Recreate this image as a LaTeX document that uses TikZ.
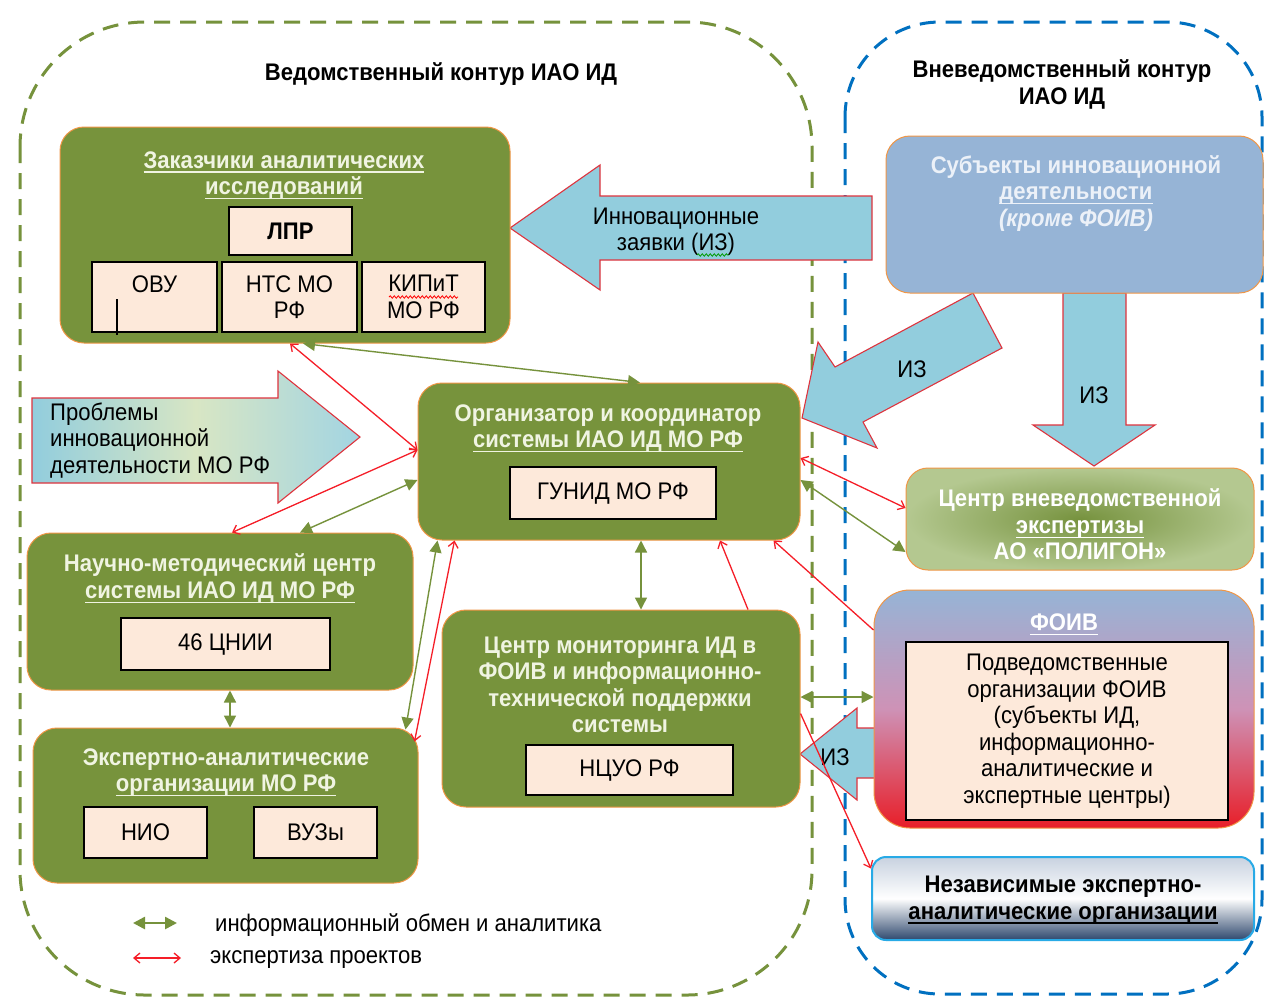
\documentclass[tikz,border=0pt]{standalone}
\usepackage{fontspec}
\setmainfont{Liberation Sans}[FakeStretch=0.92]
\usetikzlibrary{arrows.meta,decorations.pathmorphing}
\newcommand\dgmfont{\fontsize{24}{26.5}\selectfont}
\newcommand\uln[1]{\setbox0\hbox{#1}\rlap{\rule[-4.5pt]{\wd0}{1.3pt}}\box0}

\definecolor{boxgreen}{RGB}{119,147,60}
\definecolor{boxline}{RGB}{240,150,70}
\definecolor{boxtext}{RGB}{240,244,226}
\definecolor{peach}{RGB}{253,233,218}
\definecolor{arrowblue}{RGB}{146,205,221}
\definecolor{arrowred}{RGB}{222,52,62}
\definecolor{paleg}{RGB}{216,230,196}
\definecolor{infogreen}{RGB}{118,146,60}
\definecolor{expred}{RGB}{245,30,40}
\definecolor{dashblue}{RGB}{0,112,192}
\definecolor{subjblue}{RGB}{150,180,214}
\definecolor{subjtext}{RGB}{236,241,248}
\definecolor{vnevin}{RGB}{118,146,62}
\definecolor{vnevout}{RGB}{180,200,144}
\definecolor{foivmid}{RGB}{206,146,182}
\definecolor{foivred}{RGB}{232,30,40}
\definecolor{neztop}{RGB}{200,210,224}
\definecolor{nezbot}{RGB}{46,72,110}
\definecolor{nezline}{RGB}{40,170,230}

\begin{document}
\begin{tikzpicture}[x=1pt,y=-1pt,
    every node/.style={font=\dgmfont},
    greenbox/.style={draw=boxline,fill=boxgreen,line width=1pt,rounded corners=24pt,inner sep=0pt},
    innerbox/.style={draw=black,fill=peach,line width=1.5pt,inner sep=0pt,align=center},
    ttl/.style={text=boxtext,align=center,inner sep=0pt,font=\dgmfont\bfseries,yshift=-2.5pt},
    plain/.style={text=black,align=center,inner sep=0pt,yshift=-2.5pt},
    bigarrow/.style={draw=arrowred,fill=arrowblue,line width=1.1pt},
    spell/.style={line width=0.8pt,decorate,decoration={snake,amplitude=1.2pt,segment length=4pt}},
    info/.style={draw=infogreen,line width=1.4pt,{Triangle[length=12pt,width=12pt]}-{Triangle[length=12pt,width=12pt]}},
    expert/.style={draw=expred,line width=1.3pt,{Straight Barb[length=6pt,width=10pt]}-{Straight Barb[length=6pt,width=10pt]}},
    expertto/.style={draw=expred,line width=1.3pt,-{Straight Barb[length=6pt,width=10pt]}}
  ]
  \useasboundingbox (0,0) rectangle (1265,997);
  \fill[white] (0,0) rectangle (1265,997);

  % contours
  \draw[draw=infogreen,line width=3pt,dash pattern=on 16pt off 10pt,rounded corners=125pt] (20,22) rectangle (812,995);
  \draw[draw=dashblue,line width=3pt,dash pattern=on 16pt off 10pt,rounded corners=95pt] (845,22) rectangle (1262,994);
  \node[plain,font=\dgmfont\bfseries] (ved-t) at (441,72) {Ведомственный контур ИАО ИД};
  \node[plain,font=\dgmfont\bfseries] (vne-t) at (1062,82) {Вневедомственный контур\\ИАО ИД};

  % big arrows
  \draw[bigarrow] (510,228) -- (600,165) -- (600,196) -- (872,196) -- (872,260) -- (600,260) -- (600,290) -- cycle;
  \node[plain] (iz-t) at (676,229) {Инновационные\\заявки (ИЗ)};
  \draw[spell,draw=green!60!black] (697,255) -- (729,255);
  \draw[bigarrow] (973,293) -- (1002,348) -- (863,422) -- (877,448) -- (802,418) -- (818,342) -- (835,367) -- cycle;
  \node[plain] (izd-t) at (912,367) {ИЗ};
  \draw[bigarrow] (1063,293) -- (1126,293) -- (1126,425) -- (1155,425) -- (1094,466) -- (1033,425) -- (1063,425) -- cycle;
  \node[plain] (izv-t) at (1094,393) {ИЗ};
  \draw[bigarrow] (880,728) -- (857,728) -- (857,708) -- (800,754) -- (857,800) -- (857,778) -- (880,778) -- cycle;
  \node[plain] (izf-t) at (835,755) {ИЗ};
  \draw[draw=arrowred,line width=1.1pt,left color=arrowblue,right color=arrowblue!85,middle color=paleg] (32,398) -- (278,398) -- (278,371) -- (360,437) -- (278,503) -- (278,483) -- (32,483) -- cycle;
  \node[plain,align=left,anchor=west] (prob-t) at (50,438) {Проблемы\\инновационной\\деятельности МО РФ};

  % customers
  \node[greenbox,minimum width=450pt,minimum height=216pt] (zak) at (285,235) {};
  \node[ttl] (zak-t) at (284,173) {\uln{Заказчики аналитических}\\\uln{исследований}};
  \node[innerbox,minimum width=123pt,minimum height=48pt,font=\dgmfont\bfseries] (lpr) at (290.5,231) {ЛПР};
  \node[innerbox,minimum width=125pt,minimum height=70pt] (ovu) at (154.5,297) {ОВУ\\\phantom{Р}};
  \node[innerbox,minimum width=135pt,minimum height=70pt] (nts) at (289.5,297) {НТС МО\\РФ};
  \node[innerbox,minimum width=123pt,minimum height=70pt] (kip) at (423.5,297) {КИПиТ\\МО РФ};
  \draw[spell,draw=red] (389,297) -- (458,297);
  \draw[line width=2pt] (117,299) -- (117,335);

  % outside subjects
  \node[draw=boxline,fill=subjblue,line width=1pt,rounded corners=24pt,minimum width=377pt,minimum height=157pt] (subj) at (1074.5,214.5) {};
  \node[ttl,text=subjtext] (subj-t) at (1076,191) {Субъекты инновационной\\\uln{деятельности}\\\textit{(кроме ФОИВ)}};

  % organizer
  \node[greenbox,minimum width=382pt,minimum height=157pt] (org) at (609,461.5) {};
  \node[ttl] (org-t) at (608,426) {Организатор и координатор\\\uln{системы ИАО ИД МО РФ}};
  \node[innerbox,minimum width=206pt,minimum height=52pt] (gunid) at (613,493) {ГУНИД МО РФ};

  \node[draw=boxline,line width=1pt,rounded corners=22pt,inner color=vnevin,outer color=vnevout,minimum width=348pt,minimum height=102pt] (vnev) at (1080,519) {};
  \node[ttl,text=white] (vnev-t) at (1080,522) {Центр вневедомственной\\\uln{экспертизы}\\АО «ПОЛИГОН»};

  \node[greenbox,minimum width=386pt,minimum height=157pt] (nauch) at (220,611.5) {};
  \node[ttl] (nauch-t) at (220,576) {Научно-методический центр\\\uln{системы ИАО ИД МО РФ}};
  \node[innerbox,minimum width=209pt,minimum height=52pt] (cnii) at (225.5,644) {46 ЦНИИ};

  \node[greenbox,minimum width=385pt,minimum height=155pt] (eksp) at (225.5,805.5) {};
  \node[ttl] (eksp-t) at (226,770) {Экспертно-аналитические\\\uln{организации МО РФ}};
  \node[innerbox,minimum width=123pt,minimum height=51pt] (nio) at (145.5,832.5) {НИО};
  \node[innerbox,minimum width=123pt,minimum height=51pt] (vuz) at (315.5,832.5) {ВУЗы};

  \node[greenbox,minimum width=358pt,minimum height=197pt] (mon) at (621,708.5) {};
  \node[ttl] (mon-t) at (620,682.5) {Центр мониторинга ИД в\\ФОИВ и информационно-\\технической поддержки\\системы};
  \node[innerbox,minimum width=207pt,minimum height=50pt] (ncuo) at (629.5,770) {НЦУО РФ};

  \node[draw=boxline,line width=1pt,rounded corners=36pt,top color=subjblue,bottom color=foivred,middle color=foivmid,minimum width=380pt,minimum height=238pt] (foiv) at (1064,709) {};
  \node[ttl,text=white] (foiv-t) at (1064,622) {\uln{ФОИВ}};
  \node[innerbox,minimum width=322pt,minimum height=178pt] (foivin) at (1067,731) {Подведомственные\\организации ФОИВ\\(субъекты ИД,\\информационно-\\аналитические и\\экспертные центры)};

  \node[draw=nezline,line width=2pt,rounded corners=14pt,top color=neztop,bottom color=nezbot,middle color=white,minimum width=382pt,minimum height=83pt] (nezav) at (1063,898.5) {};
  \node[plain,font=\dgmfont\bfseries] (nezav-t) at (1063,897.5) {Независимые экспертно-\\\uln{аналитические организации}};

  % links
  \path
   ([xshift=18pt]zak.south) edge[info] ([xshift=31pt]org.north)
   ([xshift=5pt]zak.south) edge[expert] ([yshift=11.5pt]org.west)
   ([yshift=11.5pt]org.west) edge[expert] ([xshift=12pt]nauch.north)
   ([yshift=-18.5pt]org.west) edge[info] ([xshift=80pt]nauch.north)
   ([xshift=32pt]org.south) edge[info] ([xshift=20pt]mon.north)
   ([xshift=20pt]org.south west) edge[info] ([xshift=-13pt,yshift=-2pt]eksp.north east)
   ([xshift=37pt]org.south west) edge[expert] ([xshift=-4pt,yshift=-14pt]eksp.north east)
   ([xshift=10pt]nauch.south) edge[info] ([xshift=4.5pt]eksp.north)
   ([yshift=-18.5pt]org.east) edge[info] ([yshift=-33pt]vnev.west)
   ([yshift=3.5pt]org.east) edge[expert] ([yshift=11pt]vnev.west)
   ([xshift=127pt]mon.north) edge[expertto] ([xshift=111pt]org.south)
   ([yshift=79pt]foiv.west) edge[expertto] ([xshift=-27pt]org.south east)
   ([yshift=11.5pt]mon.east) edge[info] ([yshift=12pt]foiv.west)
   ([yshift=-5pt]mon.east) edge[expertto] ([yshift=30pt]nezav.west);

  % legend
  \coordinate (lg-ia) at (133,923);
  \coordinate (lg-ib) at (177,923);
  \coordinate (lg-ea) at (133,958);
  \coordinate (lg-eb) at (181,958);
  \path (lg-ia) edge[info,line width=2.5pt] (lg-ib)
        (lg-ea) edge[expert] (lg-eb);
  \node[plain,anchor=west] (lg-it) at (215,923) {информационный обмен и аналитика};
  \node[plain,anchor=west] (lg-et) at (210,957) {экспертиза проектов};
\end{tikzpicture}
\end{document}
